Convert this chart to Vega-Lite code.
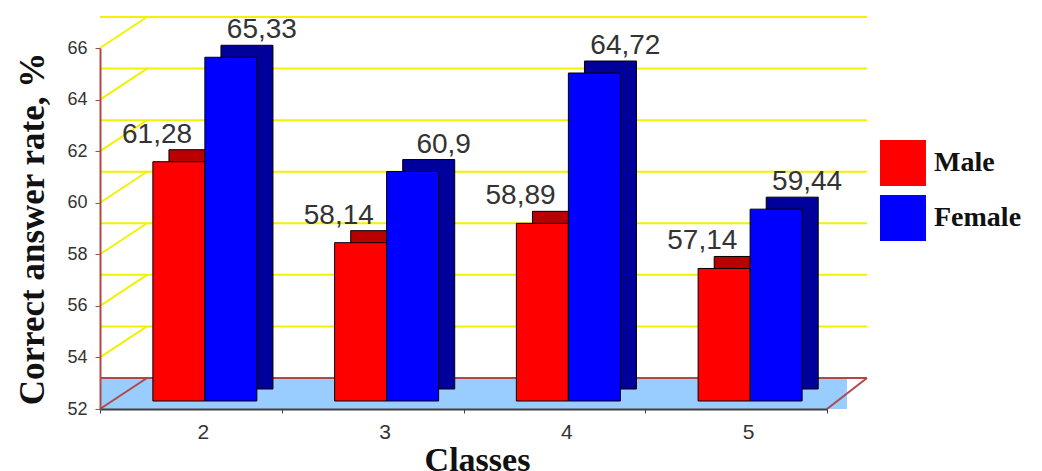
{
  "$schema": "https://vega.github.io/schema/vega-lite/v6.json",
  "width": 727,
  "height": 361,
  "autosize": {"type": "none"},
  "padding": {"left": 100, "top": 48, "right": 215, "bottom": 62},
  "background": "white",
  "config": {
    "view": {"stroke": null},
    "locale": {"number": {"decimal": ",", "thousands": " ", "grouping": [3], "currency": ["", ""]}},
    "legend": {
      "orient": "none",
      "legendX": 780,
      "legendY": 92,
      "padding": 0,
      "symbolType": "square",
      "symbolSize": 2116,
      "symbolStrokeWidth": 0,
      "symbolOpacity": 1,
      "labelFont": "Liberation Serif",
      "labelFontSize": 28,
      "labelFontWeight": "bold",
      "labelColor": "#111",
      "labelOffset": 8,
      "rowPadding": 9
    }
  },
  "datasets": {
    "rates": [
      {"class": "2", "gender": "Male", "value": 61.28},
      {"class": "2", "gender": "Female", "value": 65.33},
      {"class": "3", "gender": "Male", "value": 58.14},
      {"class": "3", "gender": "Female", "value": 60.9},
      {"class": "4", "gender": "Male", "value": 58.89},
      {"class": "4", "gender": "Female", "value": 64.72},
      {"class": "5", "gender": "Male", "value": 57.14},
      {"class": "5", "gender": "Female", "value": 59.44}
    ],
    "grid": [{"value": 54}, {"value": 56}, {"value": 58}, {"value": 60}, {"value": 62}, {"value": 64}, {"value": 66}],
    "base": [{"value": 52}]
  },
  "layer": [
    {
      "data": {"name": "rates"},
      "resolve": {"scale": {"xOffset": "independent"}},
      "encoding": {
        "x": {
          "field": "class",
          "type": "nominal",
          "scale": {"paddingInner": 0, "paddingOuter": 0},
          "axis": {
            "title": "Classes",
            "labelAngle": 0,
            "tickBand": "extent",
            "labelOffset": 12,
            "domainColor": "#404040",
            "domainWidth": 2,
            "tickColor": "#404040",
            "tickSize": 4,
            "labelFont": "Liberation Sans",
            "labelFontSize": 21,
            "labelColor": "#333",
            "labelPadding": 8,
            "titleFont": "Liberation Serif",
            "titleFontSize": 34,
            "titleFontWeight": "bold",
            "titleColor": "#111",
            "titlePadding": 1,
            "titleX": 377,
            "zindex": 1
          }
        },
        "xOffset": {
          "field": "gender",
          "type": "nominal",
          "sort": ["Male", "Female"],
          "scale": {"domain": ["Male", "Female"], "paddingInner": 0, "paddingOuter": 0.7476, "align": 0.68}
        },
        "y": {
          "field": "value",
          "type": "quantitative",
          "scale": {"domain": [52, 66], "zero": false, "nice": false},
          "axis": {
            "title": "Correct answer rate, %",
            "values": [52, 54, 56, 58, 60, 62, 64, 66],
            "grid": false,
            "domainColor": "#b04848",
            "domainWidth": 2,
            "tickColor": "#b04848",
            "tickSize": 5,
            "labelFont": "Liberation Sans",
            "labelFontSize": 18,
            "labelColor": "#333",
            "labelPadding": 8,
            "titleFont": "Liberation Serif",
            "titleFontSize": 35,
            "titleFontWeight": "bold",
            "titleColor": "#111",
            "titlePadding": 16,
            "zindex": 1
          }
        }
      },
      "layer": [
        {
          "data": {"name": "base"},
          "mark": {"type": "rect", "fill": "#99ccff", "xOffset": 23, "x2Offset": 20, "y2Offset": -31},
          "encoding": {
            "x": {"value": 0},
            "x2": {"value": "width"},
            "xOffset": {"value": 0},
            "y2": {"field": "value"}
          }
        },
        {
          "data": {"name": "grid"},
          "mark": {"type": "rule", "color": "#f2f200", "strokeWidth": 2, "xOffset": 47, "x2Offset": 40, "yOffset": -31},
          "encoding": {
            "x": {"value": 0},
            "x2": {"value": "width"},
            "xOffset": {"value": 0}
          }
        },
        {
          "data": {"name": "grid"},
          "mark": {"type": "rule", "color": "#f2f200", "strokeWidth": 2, "x2Offset": 47, "y2Offset": -31},
          "encoding": {
            "x": {"value": 0},
            "x2": {"value": 0},
            "xOffset": {"value": 0},
            "y2": {"field": "value"}
          }
        },
        {
          "data": {"name": "base"},
          "mark": {"type": "rule", "color": "#b04848", "strokeWidth": 2, "xOffset": 47, "x2Offset": 40, "yOffset": -31},
          "encoding": {
            "x": {"value": 0},
            "x2": {"value": "width"},
            "xOffset": {"value": 0}
          }
        },
        {
          "data": {"name": "base"},
          "mark": {"type": "rule", "color": "#b04848", "strokeWidth": 2, "x2Offset": 47, "y2Offset": -31},
          "encoding": {
            "x": {"value": 0},
            "x2": {"value": 0},
            "xOffset": {"value": 0},
            "y2": {"field": "value"}
          }
        },
        {
          "data": {"name": "base"},
          "mark": {"type": "rule", "color": "#b04848", "strokeWidth": 2, "x2Offset": 40, "y2Offset": -31},
          "encoding": {
            "x": {"value": "width"},
            "x2": {"value": "width"},
            "xOffset": {"value": 0},
            "y2": {"field": "value"}
          }
        },
        {
          "mark": {"type": "bar", "yOffset": -20, "y2Offset": -20, "stroke": "#000", "strokeWidth": 1},
          "encoding": {
            "xOffset": {
              "field": "gender",
              "type": "nominal",
              "sort": ["Male", "Female"],
              "scale": {"domain": ["Male", "Female"], "paddingInner": 0, "paddingOuter": 0.7476, "align": 0.887}
            },
            "y2": {"datum": 52},
            "color": {"condition": {"test": "datum.gender === 'Male'", "value": "#b80000"}, "value": "#00009a"}
          }
        },
        {
          "mark": {"type": "bar", "yOffset": -8, "y2Offset": -8, "stroke": "#000", "strokeWidth": 1, "opacity": 1},
          "encoding": {
            "y2": {"datum": 52},
            "color": {
              "field": "gender",
              "type": "nominal",
              "sort": ["Male", "Female"],
              "scale": {"domain": ["Male", "Female"], "range": ["#ff0000", "#0000ff"]},
              "legend": {"title": null}
            }
          }
        },
        {
          "transform": [{"filter": "datum.gender === 'Male'"}],
          "mark": {"type": "text", "dx": -17, "dy": -27, "baseline": "alphabetic", "font": "Liberation Sans", "fontSize": 28, "fill": "#333"},
          "encoding": {"text": {"field": "value", "type": "quantitative", "format": "~r"}}
        },
        {
          "transform": [{"filter": "datum.gender === 'Female'"}],
          "mark": {"type": "text", "dx": 15, "dy": -27, "baseline": "alphabetic", "font": "Liberation Sans", "fontSize": 28, "fill": "#333"},
          "encoding": {"text": {"field": "value", "type": "quantitative", "format": "~r"}}
        }
      ]
    }
  ]
}
